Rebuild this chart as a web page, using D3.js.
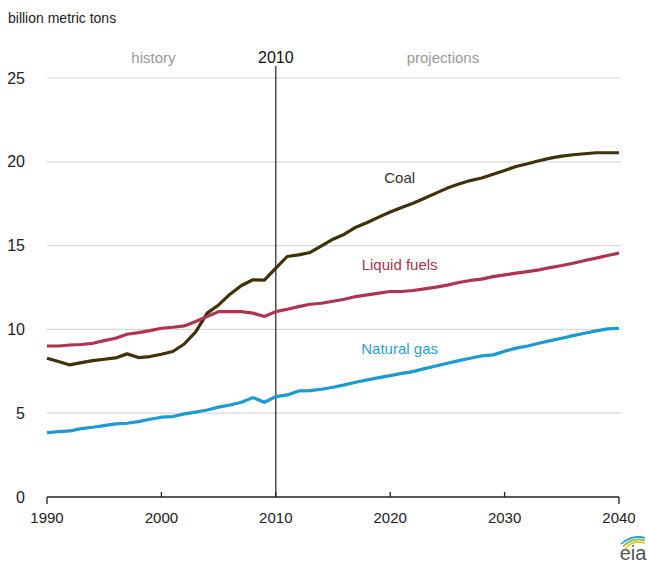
<!DOCTYPE html>
<html lang="en">
<head>
  <meta charset="UTF-8">
  <title>World energy-related CO2 emissions by fuel</title>
  <script src="https://d3js.org/d3.v7.min.js"></script>
  <style>
    body { margin: 0; background: #fff; }
    text { font-family: Arial, "Liberation Sans", sans-serif; }
  </style>
</head>
<body>
  <div id="chart"></div>

  <script>
    // years 1990..2040
    const years = d3.range(1990, 2041);

    const coal = [8.28, 8.08, 7.88, 8.02, 8.14, 8.22, 8.3, 8.54, 8.32, 8.38,
      8.52, 8.68, 9.13, 9.85, 10.97, 11.46, 12.1, 12.62, 12.96, 12.94,
      13.65, 14.35, 14.45, 14.59, 14.98, 15.38, 15.68, 16.1, 16.38, 16.7,
      17.0, 17.27, 17.53, 17.83, 18.13, 18.43, 18.67, 18.88, 19.03, 19.26,
      19.48, 19.72, 19.88, 20.06, 20.22, 20.34, 20.42, 20.48, 20.54, 20.54, 20.54];

    const liquids = [9.01, 9.01, 9.07, 9.1, 9.17, 9.33, 9.47, 9.71, 9.81, 9.93,
      10.07, 10.13, 10.21, 10.47, 10.77, 11.06, 11.06, 11.06, 10.97, 10.77,
      11.06, 11.2, 11.36, 11.5, 11.56, 11.68, 11.8, 11.96, 12.06, 12.16,
      12.26, 12.26, 12.32, 12.42, 12.52, 12.64, 12.8, 12.92, 13.0, 13.15,
      13.25, 13.36, 13.45, 13.55, 13.69, 13.81, 13.95, 14.11, 14.25, 14.41, 14.55];

    const gas = [3.84, 3.9, 3.94, 4.08, 4.16, 4.26, 4.36, 4.4, 4.5, 4.64,
      4.76, 4.8, 4.96, 5.06, 5.19, 5.36, 5.49, 5.65, 5.93, 5.65,
      5.99, 6.09, 6.33, 6.35, 6.43, 6.55, 6.69, 6.85, 6.99, 7.12,
      7.24, 7.38, 7.48, 7.66, 7.82, 7.98, 8.14, 8.28, 8.42, 8.48,
      8.7, 8.88, 9.01, 9.17, 9.33, 9.47, 9.63, 9.77, 9.91, 10.03, 10.07];

    const xTicks = [1990, 2000, 2010, 2020, 2030, 2040];
    const yTicks = [0, 5, 10, 15, 20, 25];

    const series = [
      { name: "Coal", values: coal, color: "#3f3209", labelColor: "#333", labelYear: 2021, labelValue: 18.75 },
      { name: "Liquid fuels", values: liquids, color: "#b0344f", labelColor: "#a8354f", labelYear: 2021, labelValue: 13.55 },
      { name: "Natural gas", values: gas, color: "#1c9ad6", labelColor: "#2a9fd6", labelYear: 2021, labelValue: 8.55 }
    ];

    const width = 648, height = 565;
    const margin = { top: 78, right: 29, bottom: 68, left: 47 };
    const innerW = width - margin.left - margin.right;
    const innerH = height - margin.top - margin.bottom;

    const svg = d3.select("#chart").append("svg")
      .attr("width", width)
      .attr("height", height);

    const g = svg.append("g")
      .attr("transform", `translate(${margin.left},${margin.top})`);

    const x = d3.scaleLinear().domain([1990, 2040]).range([0, innerW]);
    const y = d3.scaleLinear().domain([0, 25]).range([innerH, 0]);

    // unit label
    svg.append("text")
      .attr("x", 8).attr("y", 23)
      .attr("font-size", 14).attr("fill", "#222")
      .text("billion metric tons");

    // gridlines
    g.append("g")
      .selectAll("line")
      .data(yTicks.filter(d => d > 0))
      .join("line")
      .attr("x1", 0).attr("x2", innerW + 2)
      .attr("y1", d => y(d)).attr("y2", d => y(d))
      .attr("stroke", "#d9d9d9").attr("stroke-width", 1.2);

    // y tick labels
    g.append("g")
      .selectAll("text")
      .data(yTicks)
      .join("text")
      .attr("x", -22).attr("y", d => y(d))
      .attr("dy", "0.35em")
      .attr("text-anchor", "end")
      .attr("font-size", 16).attr("fill", "#222")
      .text(d => d);

    // x axis baseline and ticks
    g.append("line")
      .attr("x1", x(1990)).attr("x2", x(2040))
      .attr("y1", innerH).attr("y2", innerH)
      .attr("stroke", "#222").attr("stroke-width", 1.3);

    g.append("g")
      .selectAll("line")
      .data(xTicks)
      .join("line")
      .attr("x1", d => x(d)).attr("x2", d => x(d))
      .attr("y1", innerH)
      .attr("y2", d => (d === 1990 || d === 2040) ? innerH + 7 : innerH - 5)
      .attr("stroke", "#222").attr("stroke-width", 1.3);

    g.append("g")
      .selectAll("text")
      .data(xTicks)
      .join("text")
      .attr("x", d => x(d)).attr("y", innerH + 26)
      .attr("text-anchor", "middle")
      .attr("font-size", 15).attr("fill", "#222")
      .text(d => d);

    // 2010 divider
    g.append("line")
      .attr("x1", x(2010)).attr("x2", x(2010))
      .attr("y1", -12).attr("y2", innerH)
      .attr("stroke", "#222").attr("stroke-width", 1.2);

    g.append("text")
      .attr("x", x(2010)).attr("y", -15)
      .attr("text-anchor", "middle")
      .attr("font-size", 16).attr("fill", "#111")
      .text("2010");

    g.append("text")
      .attr("x", x(2000) - 8).attr("y", -15)
      .attr("text-anchor", "middle")
      .attr("font-size", 15).attr("fill", "#999")
      .text("history");

    g.append("text")
      .attr("x", x(2024) + 7).attr("y", -15)
      .attr("text-anchor", "middle")
      .attr("font-size", 15).attr("fill", "#999")
      .text("projections");

    // lines
    const line = d3.line()
      .x((d, i) => x(years[i]))
      .y(d => y(d));

    g.selectAll(".series")
      .data(series)
      .join("path")
      .attr("class", "series")
      .attr("fill", "none")
      .attr("stroke", d => d.color)
      .attr("stroke-width", 3.2)
      .attr("stroke-linejoin", "round")
      .attr("d", d => line(d.values));

    // series labels
    g.selectAll(".label")
      .data(series)
      .join("text")
      .attr("class", "label")
      .attr("x", d => x(d.labelYear) - 2)
      .attr("y", d => y(d.labelValue))
      .attr("text-anchor", "middle")
      .attr("font-size", 15)
      .attr("fill", d => d.labelColor)
      .text(d => d.name);

    // eia logo
    const logo = svg.append("g").attr("transform", "translate(633,560)");
    const arcColors = ["#1c9ad6", "#7cc142", "#f2c316"];
    arcColors.forEach((c, i) => {
      logo.append("path")
        .attr("d", `M${-12 + i * 2},${-16 + i * 2.5} Q0,${-26 + i * 2.5} ${12},${-22 + i * 2.5}`)
        .attr("fill", "none").attr("stroke", c).attr("stroke-width", 1.6);
    });
    logo.append("text")
      .attr("x", 0).attr("y", 0)
      .attr("text-anchor", "middle")
      .attr("font-family", "'Liberation Serif', 'DejaVu Serif', serif")
      .attr("font-size", 20).attr("fill", "#555")
      .text("eia");
  </script>
</body>
</html>
